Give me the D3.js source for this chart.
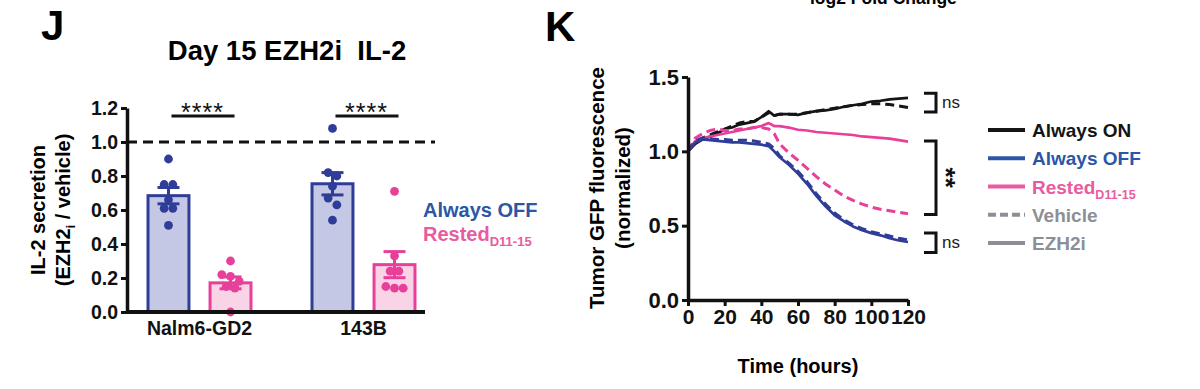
<!DOCTYPE html>
<html>
<head>
<meta charset="utf-8">
<script src="https://cdn.jsdelivr.net/npm/d3@7"></script>
<style>
  body { margin: 0; background: #fff; }
  text { font-family: "Liberation Sans", Arial, sans-serif; }
</style>
</head>
<body>
<script>
// ---- panel J data: IL-2 secretion, EZH2i / vehicle ----
var cellLines = ["Nalm6-GD2", "143B"];
var barGroups = ["off", "rested"];
var nalm6Off = [0.90, 0.75, 0.75, 0.66, 0.61, 0.61, 0.51];
var nalm6Rested = [0.30, 0.22, 0.21, 0.18, 0.15, 0.14, 0.00];
var b143Off = [1.08, 0.82, 0.80, 0.74, 0.67, 0.63, 0.54];
var b143Rested = [0.71, 0.33, 0.24, 0.24, 0.15, 0.14, 0.14];
var jTicks = [0, 0.2, 0.4, 0.6, 0.8, 1.0, 1.2];

// ---- panel K data: tumor GFP over time ----
var hours = [0, 4, 8, 12, 16, 20, 24, 28, 32, 36, 40, 44, 47, 50, 55, 60, 65, 70, 75, 80, 85, 90, 95, 100, 105, 110, 115, 120];
var onEzh2i = [1.00, 1.05, 1.08, 1.10, 1.12, 1.15, 1.16, 1.18, 1.19, 1.20, 1.23, 1.27, 1.24, 1.25, 1.25, 1.245, 1.26, 1.27, 1.275, 1.285, 1.30, 1.31, 1.32, 1.335, 1.34, 1.35, 1.355, 1.36];
var onVehicle = [1.00, 1.06, 1.09, 1.11, 1.13, 1.15, 1.17, 1.19, 1.20, 1.20, 1.23, 1.26, 1.24, 1.25, 1.25, 1.25, 1.26, 1.27, 1.28, 1.29, 1.30, 1.31, 1.315, 1.32, 1.32, 1.315, 1.305, 1.295];
var restedEzh2i = [1.00, 1.07, 1.09, 1.10, 1.11, 1.12, 1.13, 1.14, 1.15, 1.16, 1.17, 1.19, 1.17, 1.17, 1.16, 1.145, 1.14, 1.13, 1.125, 1.12, 1.115, 1.11, 1.10, 1.095, 1.09, 1.085, 1.075, 1.065];
var restedVehicle = [1.00, 1.09, 1.12, 1.14, 1.15, 1.14, 1.14, 1.15, 1.15, 1.16, 1.16, 1.15, 1.12, 1.05, 0.99, 0.94, 0.885, 0.83, 0.78, 0.74, 0.70, 0.67, 0.645, 0.625, 0.61, 0.60, 0.59, 0.58];
var offEzh2i = [1.00, 1.06, 1.08, 1.075, 1.07, 1.065, 1.06, 1.06, 1.055, 1.05, 1.045, 1.035, 1.00, 0.96, 0.91, 0.85, 0.78, 0.70, 0.63, 0.57, 0.53, 0.495, 0.47, 0.45, 0.435, 0.415, 0.40, 0.39];
var offVehicle = [1.00, 1.07, 1.09, 1.085, 1.08, 1.08, 1.075, 1.075, 1.075, 1.07, 1.06, 1.05, 1.02, 0.97, 0.92, 0.865, 0.795, 0.715, 0.645, 0.585, 0.54, 0.505, 0.48, 0.46, 0.445, 0.43, 0.415, 0.405];
var kTicksY = [0, 0.5, 1.0, 1.5];
var kTicksX = [0, 20, 40, 60, 80, 100, 120];
// significance brackets at the right end: [low, high, label]
var kBrackets = [[1.265, 1.39, "ns"], [0.575, 1.07, "**"], [0.32, 0.45, "ns"]];
var kLegend = ["Always ON", "Always OFF", "Rested", "Vehicle", "EZH2i"];

var navy = "#2f3d99", pink = "#e8409a", black = "#151515", grey = "#8c9096";
var legendBlue = "#2c56a6", legendPink = "#e95ba0";

var svg = d3.select("body").append("svg")
    .attr("width", 1200)
    .attr("height", 389);

// header of the panel above, cut off by the crop
svg.append("text")
    .attr("x", 810).attr("y", 4)
    .style("font-size", "17.5px").style("font-weight", "bold")
    .text("log2 Fold Change");

// ================= Panel J =================
svg.append("text").attr("x", 41).attr("y", 40)
    .style("font-size", "42px").style("font-weight", "bold").text("J");

svg.append("text").attr("x", 287).attr("y", 60)
    .attr("text-anchor", "middle")
    .attr("xml:space", "preserve")
    .style("white-space", "pre")
    .style("font-size", "27.5px").style("font-weight", "bold")
    .text("Day 15 EZH2i  IL-2");

var jLeft = 127, jRight = 425;
var yJ = d3.scaleLinear().domain([0, 1.2]).range([312, 108]);
var xGroup = d3.scalePoint().domain(cellLines).range([199.5, 363.5]);
var xInner = d3.scaleBand().domain(barGroups).range([-82.5, 82.5]).paddingInner(0.34).paddingOuter(0.5);

var jData = [
    {cell: "Nalm6-GD2", grp: "off", vals: nalm6Off},
    {cell: "Nalm6-GD2", grp: "rested", vals: nalm6Rested},
    {cell: "143B", grp: "off", vals: b143Off},
    {cell: "143B", grp: "rested", vals: b143Rested}
];
jData.forEach(function(d) {
    d.mean = d3.mean(d.vals);
    d.sem = d3.deviation(d.vals) / Math.sqrt(d.vals.length);
    d.cx = xGroup(d.cell) + xInner(d.grp) + xInner.bandwidth() / 2;
});
var fillOf = {off: "#c5c8e4", rested: "#f9d4e7"};
var strokeOf = {off: navy, rested: pink};

// bars
svg.append("g").selectAll("rect").data(jData).enter().append("rect")
    .attr("x", function(d) { return xGroup(d.cell) + xInner(d.grp); })
    .attr("y", function(d) { return yJ(d.mean); })
    .attr("width", xInner.bandwidth())
    .attr("height", function(d) { return yJ(0) - yJ(d.mean); })
    .attr("fill", function(d) { return fillOf[d.grp]; })
    .attr("stroke", function(d) { return strokeOf[d.grp]; })
    .attr("stroke-width", 3);

// error bars
var eb = svg.append("g").selectAll("g").data(jData).enter().append("g")
    .attr("stroke", function(d) { return strokeOf[d.grp]; })
    .attr("stroke-width", 3);
eb.append("line")
    .attr("x1", function(d) { return d.cx; }).attr("x2", function(d) { return d.cx; })
    .attr("y1", function(d) { return yJ(d.mean - d.sem); })
    .attr("y2", function(d) { return yJ(d.mean + d.sem); });
[-1, 1].forEach(function(s) {
    eb.append("line")
        .attr("x1", function(d) { return d.cx - 11; }).attr("x2", function(d) { return d.cx + 11; })
        .attr("y1", function(d) { return yJ(d.mean + s * d.sem); })
        .attr("y2", function(d) { return yJ(d.mean + s * d.sem); });
});

// scatter points, spread sideways when they sit at similar heights
var r = 4.4, spread = 8.7;
jData.forEach(function(d) {
    var sorted = d.vals.slice().sort(function(a, b) { return b - a; });
    var bins = [];
    sorted.forEach(function(v) {
        var last = bins[bins.length - 1];
        if (last && yJ(v) - yJ(last[0]) < 8) last.push(v);
        else bins.push([v]);
    });
    var pts = [];
    bins.forEach(function(bin) {
        bin.forEach(function(v, i) {
            pts.push({v: v, x: d.cx + (i - (bin.length - 1) / 2) * spread});
        });
    });
    svg.append("g").selectAll("circle").data(pts).enter().append("circle")
        .attr("cx", function(p) { return p.x; })
        .attr("cy", function(p) { return yJ(p.v); })
        .attr("r", r)
        .attr("fill", strokeOf[d.grp]);
});

// reference line at 1.0
svg.append("line")
    .attr("x1", jLeft).attr("x2", jRight + 10)
    .attr("y1", yJ(1)).attr("y2", yJ(1))
    .attr("stroke", "#111").attr("stroke-width", 3)
    .attr("stroke-dasharray", "10,6");

// y axis
var jAxis = svg.append("g")
    .attr("transform", "translate(" + jLeft + ",0)")
    .call(d3.axisLeft(yJ).tickValues(jTicks).tickFormat(d3.format(".1f")).tickSize(6).tickSizeOuter(0).tickPadding(3));
jAxis.select(".domain").attr("stroke", "#111").attr("stroke-width", 3.5);
jAxis.selectAll(".tick line").attr("stroke", "#111").attr("stroke-width", 3);
jAxis.selectAll(".tick text").attr("fill", "#111")
    .style("font-size", "19.5px").style("font-weight", "bold").style("font-family", "'Liberation Sans', Arial, sans-serif");

// baseline
svg.append("line")
    .attr("x1", jLeft - 1).attr("x2", jRight)
    .attr("y1", yJ(0)).attr("y2", yJ(0))
    .attr("stroke", "#111").attr("stroke-width", 4);

// category labels
svg.append("g").selectAll("text").data(cellLines).enter().append("text")
    .attr("x", function(d) { return xGroup(d); })
    .attr("y", 335)
    .attr("text-anchor", "middle")
    .style("font-size", "19.5px").style("font-weight", "bold")
    .attr("fill", "#111")
    .text(function(d) { return d; });

// y title
var jTitle = svg.append("g").attr("transform", "translate(50,210) rotate(-90)");
jTitle.append("text").attr("x", 0).attr("y", -5)
    .attr("text-anchor", "middle")
    .style("font-size", "20px").style("font-weight", "bold")
    .text("IL-2 secretion");
var jt2 = jTitle.append("text").attr("x", 0).attr("y", 20)
    .attr("text-anchor", "middle")
    .style("font-size", "20px").style("font-weight", "bold");
jt2.append("tspan").text("(EZH2");
jt2.append("tspan").attr("dy", 5).style("font-size", "13px").text("i");
jt2.append("tspan").attr("dy", -5).text(" / vehicle)");

// significance over groups
cellLines.forEach(function(c) {
    var x0 = xGroup(c) + xInner("off") + xInner.bandwidth() / 2;
    var x1 = xGroup(c) + xInner("rested") + xInner.bandwidth() / 2;
    svg.append("line")
        .attr("x1", x0 + 3).attr("x2", x1 + 4)
        .attr("y1", 116).attr("y2", 116)
        .attr("stroke", "#111").attr("stroke-width", 3);
    svg.append("text")
        .attr("x", (x0 + x1) / 2 + 3).attr("y", 121)
        .attr("text-anchor", "middle")
        .style("font-size", "25px").style("letter-spacing", "1px")
        .attr("fill", "#111")
        .text("****");
});

// legend J
svg.append("text").attr("x", 423).attr("y", 217)
    .style("font-size", "20px").style("font-weight", "bold")
    .attr("fill", legendBlue).text("Always OFF");
var jl2 = svg.append("text").attr("x", 423).attr("y", 241)
    .style("font-size", "20px").style("font-weight", "bold")
    .attr("fill", legendPink);
jl2.append("tspan").text("Rested");
jl2.append("tspan").attr("dy", 5).style("font-size", "13px").text("D11-15");

// ================= Panel K =================
svg.append("text").attr("x", 545).attr("y", 41)
    .style("font-size", "42px").style("font-weight", "bold").text("K");

var xK = d3.scaleLinear().domain([0, 120]).range([688, 908]);
var yK = d3.scaleLinear().domain([0, 1.5]).range([300, 77]);

var kSeries = [
    {vals: onVehicle, color: black, dash: true},
    {vals: onEzh2i, color: black, dash: false},
    {vals: restedVehicle, color: pink, dash: true},
    {vals: restedEzh2i, color: pink, dash: false},
    {vals: offVehicle, color: navy, dash: true},
    {vals: offEzh2i, color: navy, dash: false}
];
var line = d3.line()
    .x(function(d, i) { return xK(hours[i]); })
    .y(function(d) { return yK(d); });

svg.append("g").selectAll("path").data(kSeries).enter().append("path")
    .attr("d", function(d) { return line(d.vals); })
    .attr("fill", "none")
    .attr("stroke", function(d) { return d.color; })
    .attr("stroke-width", function(d) { return d.dash ? 3 : 2.7; })
    .attr("stroke-dasharray", function(d) { return d.dash ? "9,5" : null; })
    .attr("stroke-linejoin", "round");

var kyAxis = svg.append("g")
    .attr("transform", "translate(688,0)")
    .call(d3.axisLeft(yK).tickValues(kTicksY).tickFormat(d3.format(".1f")).tickSize(6).tickSizeOuter(0).tickPadding(3));
var kxAxis = svg.append("g")
    .attr("transform", "translate(0,300)")
    .call(d3.axisBottom(xK).tickValues(kTicksX).tickSize(6).tickSizeOuter(0).tickPadding(3));
[kyAxis, kxAxis].forEach(function(a) {
    a.select(".domain").attr("stroke", "#111").attr("stroke-width", 3.5);
    a.selectAll(".tick line").attr("stroke", "#111").attr("stroke-width", 3);
    a.selectAll(".tick text").attr("fill", "#111")
        .style("font-size", "22px").style("font-weight", "bold").style("font-family", "'Liberation Sans', Arial, sans-serif");
});
kxAxis.selectAll(".tick text").style("font-size", "21px");

svg.append("text").attr("x", 798).attr("y", 373)
    .attr("text-anchor", "middle")
    .style("font-size", "20px").style("font-weight", "bold")
    .text("Time (hours)");

var kTitle = svg.append("g").attr("transform", "translate(610,188) rotate(-90)");
kTitle.append("text").attr("x", 0).attr("y", -6)
    .attr("text-anchor", "middle")
    .style("font-size", "20.5px").style("font-weight", "bold")
    .text("Tumor GFP fluorescence");
kTitle.append("text").attr("x", 0).attr("y", 20)
    .attr("text-anchor", "middle")
    .style("font-size", "20.5px").style("font-weight", "bold")
    .text("(normalized)");

// brackets
var bx = 936, arm = 12;
kBrackets.forEach(function(b) {
    var y0 = yK(b[1]), y1 = yK(b[0]);
    svg.append("path")
        .attr("d", "M" + (bx - arm) + "," + y0 + "H" + bx + "V" + y1 + "H" + (bx - arm))
        .attr("fill", "none").attr("stroke", "#111").attr("stroke-width", 3);
    if (b[2] === "ns") {
        svg.append("text").attr("x", bx + 6).attr("y", (y0 + y1) / 2 + 5)
            .style("font-size", "17px").attr("fill", "#222").text("ns");
    } else {
        svg.append("text")
            .attr("transform", "translate(" + (bx + 1) + "," + ((y0 + y1) / 2) + ") rotate(90)")
            .attr("text-anchor", "middle")
            .style("font-size", "26px").style("font-weight", "bold")
            .attr("fill", "#111").text(b[2]);
    }
});

// legend K
var legColor = [black, legendBlue, legendPink, grey, grey];
var legY = d3.scalePoint().domain(kLegend).range([130, 243]);
var lg = svg.append("g").selectAll("g").data(kLegend).enter().append("g")
    .attr("transform", function(d) { return "translate(0," + legY(d) + ")"; });
lg.append("line")
    .attr("x1", 988).attr("x2", 1025)
    .attr("stroke", function(d, i) { return legColor[i]; })
    .attr("stroke-width", 4)
    .attr("stroke-dasharray", function(d) { return d === "Vehicle" ? "8,4" : null; });
lg.append("text")
    .attr("x", 1032).attr("y", 7)
    .style("font-size", "19px").style("font-weight", "bold")
    .attr("fill", function(d, i) { return legColor[i]; })
    .each(function(d) {
        var t = d3.select(this);
        if (d === "Rested") {
            t.append("tspan").text("Rested");
            t.append("tspan").attr("dy", 5).style("font-size", "12.5px").text("D11-15");
        } else {
            t.text(d);
        }
    });
</script>
</body>
</html>
